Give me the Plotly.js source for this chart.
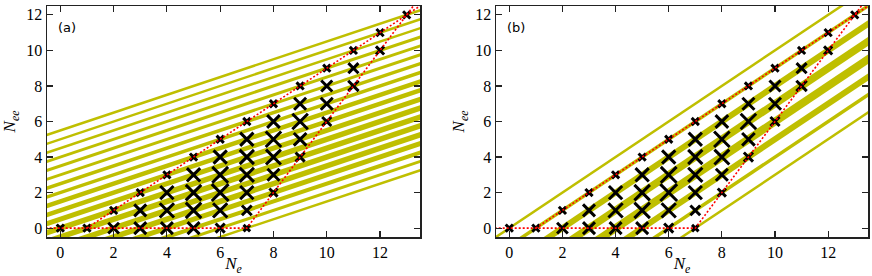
<!DOCTYPE html>
<html>
<head>
<meta charset="utf-8">
<script src="https://cdn.plot.ly/plotly-3.0.1.min.js"></script>
<style>html,body{margin:0;padding:0;background:#fff;}#chart{width:872px;height:276px;}</style>
</head>
<body>
<div id="chart"></div>
<script>
// ---- data ----
var Ne  = [0, 1, 2,2, 3,3,3, 4,4,4,4, 5,5,5,5,5, 6,6,6,6,6,6, 7,7,7,7,7,7,7, 8,8,8,8,8,8, 9,9,9,9,9, 10,10,10,10, 11,11,11, 12,12, 13];
var Nee = [0, 0, 0,1, 0,1,2, 0,1,2,3, 0,1,2,3,4, 0,1,2,3,4,5, 0,1,2,3,4,5,6, 2,3,4,5,6,7, 4,5,6,7,8, 6,7,8,9, 8,9,10, 10,11, 12];
var weight = [1, 1, 2.1,1, 2.5,2.5,1, 2.5,3.2,2.9,1, 2.5,3.6,3.6,2.9,1, 1.6,3.2,4.0,3.7,2.9,1,
              0.8,1.8,2.9,3.2,3.2,2.9,1, 1.3,2.5,3.4,3.6,2.7,1, 1.6,2.7,3.6,2.5,1, 1.6,2.5,2.2,1, 2.0,1.9,1, 1.3,1, 1];

// panel (a): lines Nee = 0.5*Ne + c
var slopeA = 0.5;
var interceptA = [-3.5,-3,-2.5,-2,-1.5,-1,-0.5,0,0.5,1,1.5,2,2.5,3,3.5,4,4.5,5,5.5];
var lineWeightA = [2.5,3,4,5,5.5,5.5,5.5,5.5,5,4.5,4.5,3.5,3.5,3,3,3,2.5,2.5,2.5];

// panel (b): lines Nee = Ne - k
var slopeB = 1;
var offsetB = [0,1,2,3,4,5,6,7];
var lineWeightB = [2.5,3.5,6,7.5,8,6,3.5,2.5];

// red boundaries
var upperX = [1, 14], upperY = [0, 13];
var lowerX = [-1, 7, 14], lowerY = [0, 0, 14];

var xTicks = [0,2,4,6,8,10,12];
var yTicks = [0,2,4,6,8,10,12];

// ---- styles ----
var YEL = 'rgb(191,191,0)';
var traces = [];
function addLines(slope, icpts, wts, xa, ya) {
  for (var i = 0; i < icpts.length; i++) {
    var xs = [-1, 14];
    traces.push({x: xs, y: xs.map(function(v){return slope*v + icpts[i];}), mode:'lines', xaxis:xa, yaxis:ya,
      line:{color:YEL, width:wts[i]}, hoverinfo:'skip'});
  }
}
addLines(slopeA, interceptA, lineWeightA, 'x', 'y');
addLines(slopeB, offsetB.map(function(k){return -k;}), lineWeightB, 'x2', 'y2');

var sizes = weight.map(function(w){return 4 + 3.2*w;});
['x','x2'].forEach(function(xa, i){
  var ya = i ? 'y2' : 'y';
  traces.push({x:Ne, y:Nee, mode:'markers', xaxis:xa, yaxis:ya, cliponaxis:false,
    marker:{symbol:'x-thin', size:sizes, color:'#000', opacity:1, line:{width:3, color:'#000'}}});
  traces.push({x:upperX, y:upperY, mode:'lines', xaxis:xa, yaxis:ya, line:{color:'red', width:1.6, dash:'2px,2px'}});
  traces.push({x:lowerX, y:lowerY, mode:'lines', xaxis:xa, yaxis:ya, line:{color:'red', width:1.6, dash:'2px,2px'}});
});

var tickfont = {family:'Liberation Serif, DejaVu Serif, serif', size:16, color:'black'};
var titlefont = {family:'Liberation Serif, DejaVu Serif, serif', size:17, color:'black'};
function xaxis(dom, anchor) {
  return {domain:dom, anchor:anchor, range:[-0.5,13.5], tickvals:xTicks, ticks:'inside', ticklen:6, tickwidth:1.2,
    tickcolor:'#222', mirror:'ticks', showline:true, linecolor:'#222', linewidth:1.5, showgrid:false, zeroline:false,
    tickfont:tickfont, title:{text:'<i>N</i><sub><i>e</i></sub>', font:titlefont, standoff:4}};
}
function yaxis(anchor) {
  return {domain:[0,1], anchor:anchor, range:[-0.5,12.5], tickvals:yTicks, ticks:'inside', ticklen:6, tickwidth:1.2,
    tickcolor:'#222', mirror:'ticks', showline:true, linecolor:'#222', linewidth:1.5, showgrid:false, zeroline:false,
    tickfont:tickfont, title:{text:'<i>N</i><sub><i>ee</i></sub>', font:titlefont, standoff:6}};
}
var layout = {
  width:872, height:276, margin:{l:0, r:0, t:6, b:39},
  paper_bgcolor:'white', plot_bgcolor:'white', showlegend:false,
  xaxis: xaxis([47/872, 420/872], 'y'),
  yaxis: yaxis('x'),
  xaxis2: xaxis([496/872, 868/872], 'y2'),
  yaxis2: yaxis('x2'),
  annotations:[
    {text:'(a)', xref:'paper', yref:'paper', x:56/872, y:0.905, xanchor:'left', yanchor:'middle', showarrow:false,
     font:{family:'DejaVu Sans', size:13, color:'black'}},
    {text:'(b)', xref:'paper', yref:'paper', x:505/872, y:0.905, xanchor:'left', yanchor:'middle', showarrow:false,
     font:{family:'DejaVu Sans', size:13, color:'black'}}
  ]
};
Plotly.newPlot('chart', traces, layout, {staticPlot:true, displayModeBar:false});
</script>
</body>
</html>
